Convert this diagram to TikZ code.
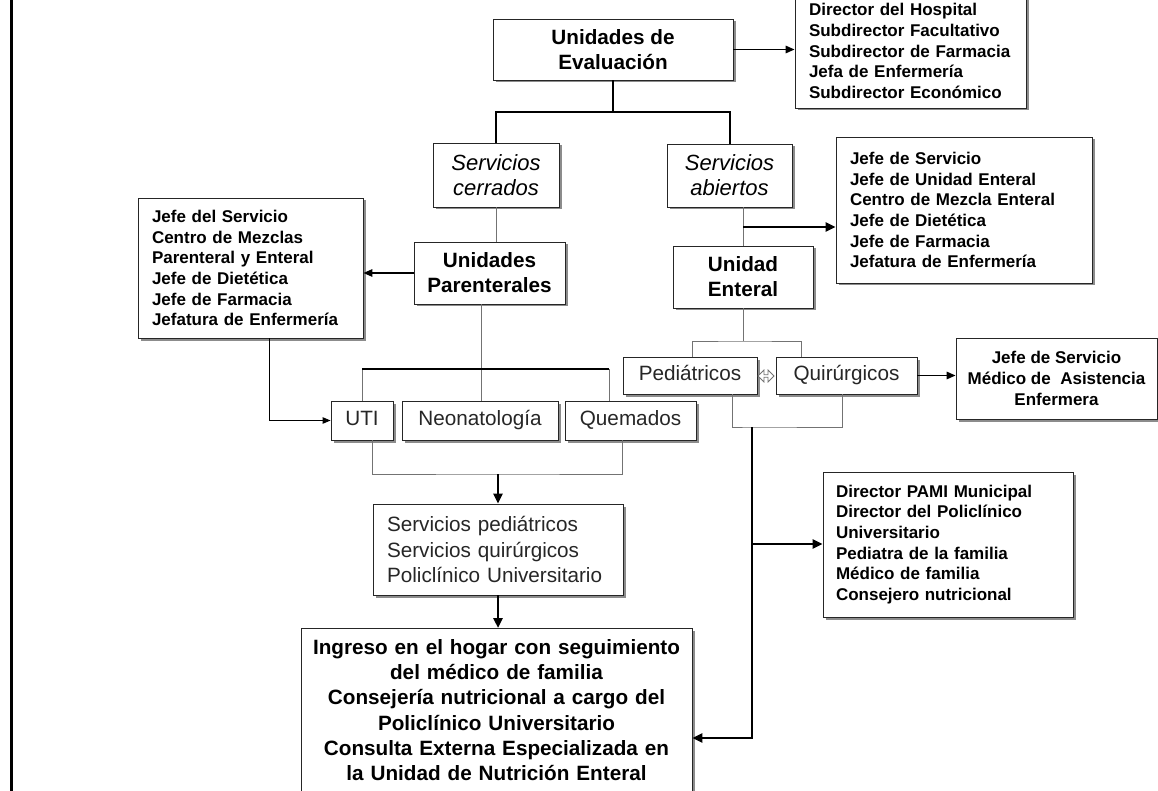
\documentclass[tikz,border=0pt]{standalone}
\usepackage{fontspec}
\setmainfont{Liberation Sans}
\usetikzlibrary{arrows.meta}
\usetikzlibrary{shadows}
\usetikzlibrary{shapes.arrows}

\begin{document}
\begin{tikzpicture}[x=1pt,y=1pt,yscale=-1,
  box/.style={draw=black!85, line width=0.9pt, fill=white, inner sep=0pt,
    drop shadow={shadow xshift=2.5pt, shadow yshift=-2.5pt, fill=black!45, opacity=1}},
  bigbold/.style={box, align=center, font=\fontsize{20.7}{25.2}\selectfont\bfseries},
  bigslant/.style={box, align=center, font=\fontsize{22}{25}\selectfont\itshape},
  bigplain/.style={box, align=center, text=black!85, font=\fontsize{20.7}{25.6}\selectfont},
  oneline/.style={bigplain, text height=15pt, text depth=4.5pt},
  listbox/.style={box, align=left, inner xsep=14pt, font=\fontsize{17}{20.7}\selectfont\bfseries},
  link/.style={draw=black!55, line width=0.9pt},
  trunk/.style={line width=2pt},
  arrline/.style={line width=1.6pt, -{Triangle[length=9pt,width=7.5pt]}},
  thinarr/.style={line width=0.9pt, -{Triangle[length=8pt,width=6.5pt]}},
  bigarr/.style={line width=2.8pt, -{Triangle[length=10pt,width=9pt]}}
]
\clip (0,0) rectangle (1158,791);
\fill[white] (0,0) rectangle (1158,791);
%page edge
\draw[line width=2.5pt] (11.5,-5) -- (11.5,800);

%Rectangle: Unidades de Evaluacion
\node[bigbold, minimum width=240pt, minimum height=61pt] (ude) at (613,49.5) {Unidades de\\Evaluación};
%Rectangle: direccion
\node[listbox, text width=203pt, minimum height=114pt] (topr) at (910.5,51) {Director del Hospital\\Subdirector Facultativo\\Subdirector de Farmacia\\Jefa de Enfermería\\Subdirector Económico};
%Rectangle: servicios
\node[bigslant, minimum width=126pt, minimum height=64pt] (scer) at (496,175) {Servicios\\cerrados};
\node[bigslant, minimum width=125pt, minimum height=63pt] (sab) at (729.5,175.5) {Servicios\\abiertos};
%Rectangle: unidades
\node[bigbold, minimum width=151pt, minimum height=62pt] (upar) at (489.5,273) {Unidades\\Parenterales};
\node[bigbold, minimum width=140pt, minimum height=62pt] (uent) at (743,277) {Unidad\\Enteral};
%Rectangle: responsables
\node[listbox, text width=197pt, minimum height=140pt] (lft) at (250.5,268) {Jefe del Servicio\\Centro de Mezclas\\Parenteral y Enteral\\Jefe de Dietética\\Jefe de Farmacia\\Jefatura de Enfermería};
\node[listbox, text width=228pt, minimum height=146pt] (jefe2) at (964,210) {Jefe de Servicio\\Jefe de Unidad Enteral\\Centro de Mezcla Enteral\\Jefe de Dietética\\Jefe de Farmacia\\Jefatura de Enfermería};
%Rectangle: pediatricos y quirurgicos
\node[oneline, minimum width=134pt, minimum height=37pt] (ped) at (690,375.5) {Pediátricos};
\node[oneline, minimum width=141pt, minimum height=37pt] (qui) at (846.5,375.5) {Quirúrgicos};
\node[double arrow, draw=black!55, line width=0.8pt, fill=white, inner sep=0pt, minimum height=16pt, minimum width=12pt, double arrow head extend=1.5pt] (dbl) at (766,376) {};
\node[box, align=center, font=\fontsize{17}{20.7}\selectfont\bfseries, minimum width=201pt, minimum height=81pt] (jefe3) at (1056.5,378.5) {Jefe de Servicio\\Médico de~~Asistencia\\Enfermera};
%Rectangle: UTI, Neonatologia, Quemados
\node[oneline, minimum width=62pt, minimum height=39pt] (uti) at (362,420.5) {UTI};
\node[oneline, minimum width=156pt, minimum height=39pt] (neo) at (480,420.5) {Neonatología};
\node[oneline, minimum width=131pt, minimum height=39pt] (que) at (630.5,420.5) {Quemados};
%Rectangle: servicios de seguimiento
\node[bigplain, align=left, inner xsep=14pt, text width=222pt, minimum height=91pt] (serv) at (498,549.5) {Servicios pediátricos\\Servicios quirúrgicos\\Policlínico Universitario};
\node[listbox, inner xsep=13pt, text width=224pt, minimum height=145pt] (pami) at (948,544.5) {Director PAMI Municipal\\Director del Policlínico\\Universitario\\Pediatra de la familia\\Médico de familia\\Consejero nutricional};
%Rectangle: hogar
\node[bigbold, anchor=north, inner xsep=8pt, inner ysep=11pt, text width=375pt] (ing) at (496.5,628) {Ingreso en el hogar con seguimiento\\del médico de familia\\Consejería nutricional a cargo del\\Policlínico Universitario\\Consulta Externa Especializada en\\la Unidad de Nutrición Enteral};

%joints
\coordinate (topbar) at (613,112);
\coordinate (pbar) at (481,369);
\coordinate (brk) at (498,474);
\coordinate (abr) at (743,227);
\coordinate (pq) at (743,341);
\coordinate (pqb) at (752,427);
\coordinate (pbr) at (752,544);
\coordinate (corner) at (752,738);

%Connectors: top
\draw[arrline] (ude.east) -- (ude.east -| topr.west);
\draw[trunk] (ude.south) -- (topbar);
\draw[trunk] (scer.north) |- (topbar) -| (sab.north);
%Connectors: servicios cerrados
\draw[link] (scer.south) -- (scer.south |- upar.north);
\draw[arrline] (upar.west) -- (upar.west -| lft.east);
\draw[thinarr] ([xshift=18.5pt]lft.south) |- (uti.west);
\draw[link] ([xshift=-8.5pt]upar.south) -- ([xshift=-8.5pt]upar.south |- neo.north);
\draw[link] (uti.north) -- (uti.north |- pbar);
\draw[link] ([xshift=-21.5pt]que.north) -- ([xshift=-21.5pt]que.north |- pbar);
\draw[trunk] (uti.north |- pbar) -- ([xshift=-21.5pt]que.north |- pbar);
\draw[link] ([xshift=10pt]uti.south) |- (brk) -| ([xshift=-8.5pt]que.south);
\draw[bigarr] (brk) -- (serv.north);
\draw[bigarr] (serv.south) -- (serv.south |- ing.north);
%Connectors: servicios abiertos
\draw[link] (uent.north |- sab.south) -- (uent.north);
\draw[bigarr, line width=2.4pt] (abr) -- (abr -| jefe2.west);
\draw[link] (uent.south) -- (pq);
\draw[link] ([xshift=2pt]ped.north) |- (pq) -| ([xshift=-45.5pt]qui.north);
\draw[arrline] (qui.east) -- (qui.east -| jefe3.west);
\draw[link] ([xshift=42pt]ped.south) |- (pqb) -| ([xshift=-4pt]qui.south);
\draw[bigarr] (pqb) -- (corner) -- (corner -| ing.east);
\draw[bigarr] (pbr) -- (pbr -| pami.west);

\end{tikzpicture}
\end{document}
